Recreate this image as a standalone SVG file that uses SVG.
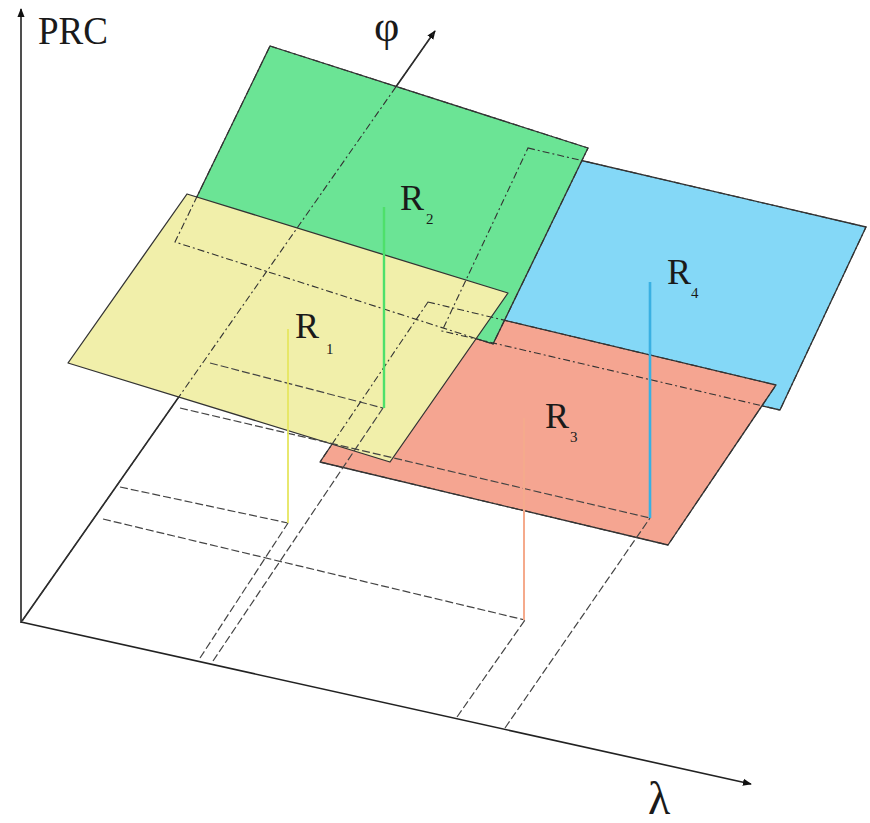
<svg xmlns="http://www.w3.org/2000/svg" width="870" height="823" viewBox="0 0 870 823">
<defs>
<style>
.axis{stroke:#222;stroke-width:1.6;fill:none}
.plane{stroke:#333;stroke-width:1.3;stroke-linejoin:round}
.hidden{fill:none;stroke:#333;stroke-width:1.1;stroke-dasharray:7 3 2 3}
.floor{fill:none;stroke:#444;stroke-width:1.2;stroke-dasharray:8 3}
.lbl{fill:#1a1a1a}
.sub{fill:#1a1a1a;font-size:15px}
</style>
<marker id="arr" viewBox="0 0 10 10" refX="9" refY="5" markerWidth="9" markerHeight="9" markerUnits="userSpaceOnUse" orient="auto">
<path d="M0,1 L10,5 L0,9 Z" fill="#111"/>
</marker>
</defs>
<rect width="870" height="823" fill="#fff"/>

<g id="axes" font-family="'Liberation Serif', 'Times New Roman', serif">
<line class="axis" x1="21" y1="623" x2="21" y2="9" marker-end="url(#arr)"/>
<line class="axis" x1="21" y1="622" x2="751" y2="784" marker-end="url(#arr)"/>
<line class="axis" x1="22" y1="621" x2="435" y2="31" stroke-width="1.2" stroke="#444" marker-end="url(#arr)"/>
<text class="lbl" x="38" y="44" font-size="40" textLength="70" lengthAdjust="spacingAndGlyphs">PRC</text>
<text class="lbl" x="374" y="41" font-size="44">φ</text>
<text class="lbl" x="648" y="814" font-size="46">λ</text>
</g>

<g id="R4" font-family="'Liberation Serif', 'Times New Roman', serif">
<polygon class="plane" points="528,148 866,227 780,410 442,331" fill="#84d8f7"/>
<text class="lbl" x="667" y="284" font-size="36">R</text><text class="sub" x="691" y="298">4</text>
</g>
<g id="R3" font-family="'Liberation Serif', 'Times New Roman', serif">
<polygon class="plane" points="428,302 776,385 668,545 320,462" fill="#f5a591"/>
<text class="lbl" x="545" y="428" font-size="36">R</text><text class="sub" x="570" y="442">3</text>
</g>
<g id="R2" font-family="'Liberation Serif', 'Times New Roman', serif">
<polygon class="plane" points="270,46 588,148 493,344 175,242" fill="#6be495"/>
<text class="lbl" x="400" y="210" font-size="36">R</text><text class="sub" x="426" y="224">2</text>
</g>
<g id="R1" font-family="'Liberation Serif', 'Times New Roman', serif">
<polygon class="plane" points="187,194 508,293 390,462 68,363" fill="#f1efaa"/>
<text class="lbl" x="295" y="338" font-size="36">R</text><text class="sub" x="326" y="354">1</text>
</g>

<g id="hidden-edges">
<polygon class="hidden" points="528,148 866,227 780,410 442,331"/>
<polygon class="hidden" points="428,302 776,385 668,545 320,462"/>
<polygon class="hidden" points="270,46 588,148 493,344 175,242"/>
<line class="hidden" x1="22" y1="621" x2="435" y2="31" stroke-dasharray="9 3"/>
</g>

<g id="connectors">
<line class="floor" x1="120" y1="487" x2="288" y2="523"/>
<line class="floor" x1="200" y1="658" x2="288" y2="523"/>
<line class="floor" x1="210" y1="363" x2="383" y2="408"/>
<line class="floor" x1="213" y1="661" x2="383" y2="408"/>
<line class="floor" x1="103" y1="519" x2="525" y2="620"/>
<line class="floor" x1="457" y1="717" x2="525" y2="620"/>
<line class="floor" x1="180" y1="408" x2="650" y2="518"/>
<line class="floor" x1="505" y1="728" x2="650" y2="518"/>
<line x1="288" y1="329" x2="288" y2="523" stroke="#e6e660" stroke-width="1.8"/>
<line x1="384" y1="207" x2="384" y2="408" stroke="#4ee06a" stroke-width="2.4"/>
<line x1="524" y1="418" x2="524" y2="620" stroke="#f5aa8c" stroke-width="2"/>
<line x1="650" y1="282" x2="650" y2="518" stroke="#3ab0e2" stroke-width="2.6"/>
</g>
</svg>
